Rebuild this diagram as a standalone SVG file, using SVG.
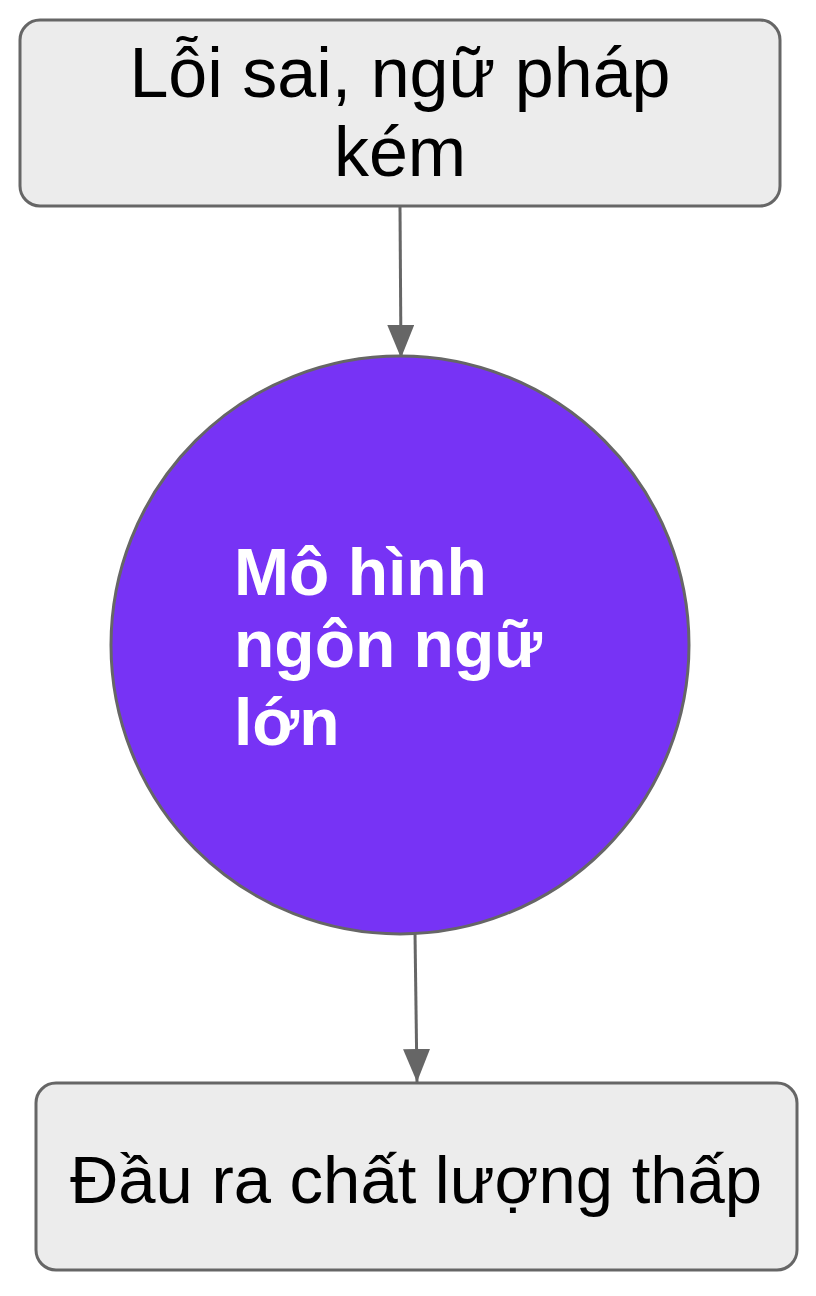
<svg xmlns="http://www.w3.org/2000/svg" width="816" height="1296" viewBox="0 0 816 1296">
<style>
.box{fill:#ececec;stroke:#666;stroke-width:3}
.lbl{font-family:"Liberation Sans",Arial,sans-serif;font-size:70px;fill:#000;text-anchor:middle}
.wlbl{font-family:"Liberation Sans",Arial,sans-serif;font-weight:700;font-size:66px;fill:#fff}
.edge{stroke:#666;stroke-width:3;fill:none}
</style>
<defs>
<marker id="ah" viewBox="0 0 10 10" refX="10" refY="5" markerWidth="11" markerHeight="9" markerUnits="strokeWidth" orient="auto" preserveAspectRatio="none">
<path d="M0,0 L10,5 L0,10 z" fill="#666"/>
</marker>
</defs>
<rect width="816" height="1296" fill="#fff"/>
<g id="connectors">
<path class="edge" d="M400,207 L401,358" marker-end="url(#ah)"/>
<path class="edge" d="M415,933 L417,1082" marker-end="url(#ah)"/>
</g>
<g id="node-top">
<rect class="box" x="20" y="20" width="760" height="186" rx="20"/>
<text class="lbl" x="400" y="97">Lỗi sai, ngữ pháp</text>
<text class="lbl" x="400" y="176">kém</text>
</g>
<g id="node-circle">
<circle cx="400" cy="645" r="289" fill="#7733f5" stroke="#666" stroke-width="3"/>
<text class="wlbl" x="234" y="595">Mô hình</text>
<text class="wlbl" x="234" y="667">ngôn ngữ</text>
<text class="wlbl" x="234" y="745">lớn</text>
</g>
<g id="node-bottom">
<rect class="box" x="36" y="1083" width="761" height="187" rx="20"/>
<text class="lbl" x="416" y="1203" style="font-size:67px">Đầu ra chất lượng thấp</text>
</g>
</svg>
